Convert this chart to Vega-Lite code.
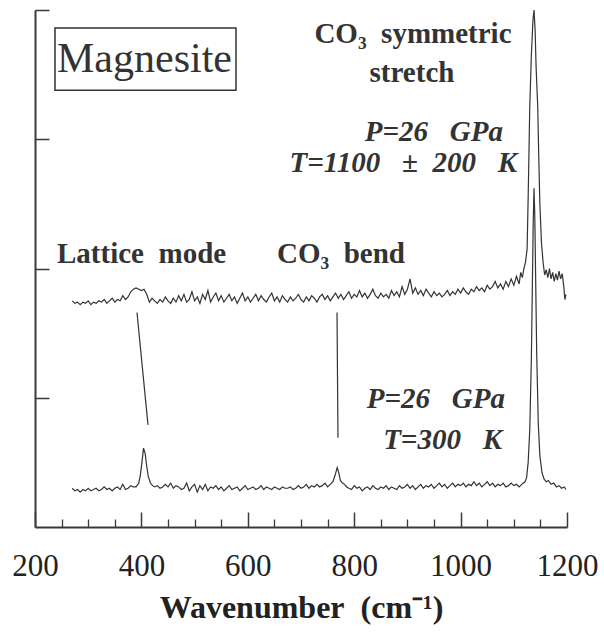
{
  "$schema": "https://vega.github.io/schema/vega-lite/v6.json",
  "width": 532,
  "height": 517,
  "autosize": "none",
  "padding": {"left": 35, "top": 10, "right": 37, "bottom": 108},
  "background": "white",
  "config": {
    "view": {"stroke": null},
    "font": "Liberation Serif",
    "axis": {"grid": false, "domainColor": "#3a3a3a", "tickColor": "#3a3a3a", "labelColor": "#222", "titleColor": "#222"}
  },
  "datasets": {
    "spectra": [
      {"run":"300 K","w":270,"i":0.30},{"run":"300 K","w":275,"i":0.28},{"run":"300 K","w":280,"i":0.29},{"run":"300 K","w":285,"i":0.27},{"run":"300 K","w":290,"i":0.29},{"run":"300 K","w":295,"i":0.28},{"run":"300 K","w":300,"i":0.30},{"run":"300 K","w":305,"i":0.28},{"run":"300 K","w":310,"i":0.29},{"run":"300 K","w":315,"i":0.30},{"run":"300 K","w":320,"i":0.28},{"run":"300 K","w":325,"i":0.29},{"run":"300 K","w":330,"i":0.31},{"run":"300 K","w":335,"i":0.29},{"run":"300 K","w":340,"i":0.30},{"run":"300 K","w":345,"i":0.28},{"run":"300 K","w":350,"i":0.30},{"run":"300 K","w":355,"i":0.31},{"run":"300 K","w":360,"i":0.29},{"run":"300 K","w":365,"i":0.33},{"run":"300 K","w":370,"i":0.29},{"run":"300 K","w":375,"i":0.30},{"run":"300 K","w":380,"i":0.32},{"run":"300 K","w":385,"i":0.31},{"run":"300 K","w":390,"i":0.31},{"run":"300 K","w":395,"i":0.34},{"run":"300 K","w":398,"i":0.40},{"run":"300 K","w":401,"i":0.50},{"run":"300 K","w":404,"i":0.61},{"run":"300 K","w":407,"i":0.57},{"run":"300 K","w":410,"i":0.47},{"run":"300 K","w":413,"i":0.39},{"run":"300 K","w":417,"i":0.34},{"run":"300 K","w":421,"i":0.32},{"run":"300 K","w":425,"i":0.31},{"run":"300 K","w":430,"i":0.32},{"run":"300 K","w":435,"i":0.30},{"run":"300 K","w":440,"i":0.31},{"run":"300 K","w":445,"i":0.33},{"run":"300 K","w":450,"i":0.31},{"run":"300 K","w":455,"i":0.34},{"run":"300 K","w":460,"i":0.30},{"run":"300 K","w":465,"i":0.32},{"run":"300 K","w":470,"i":0.31},{"run":"300 K","w":475,"i":0.29},{"run":"300 K","w":480,"i":0.30},{"run":"300 K","w":485,"i":0.34},{"run":"300 K","w":490,"i":0.28},{"run":"300 K","w":495,"i":0.31},{"run":"300 K","w":500,"i":0.33},{"run":"300 K","w":505,"i":0.27},{"run":"300 K","w":510,"i":0.32},{"run":"300 K","w":515,"i":0.29},{"run":"300 K","w":520,"i":0.33},{"run":"300 K","w":525,"i":0.28},{"run":"300 K","w":530,"i":0.31},{"run":"300 K","w":535,"i":0.30},{"run":"300 K","w":540,"i":0.32},{"run":"300 K","w":545,"i":0.29},{"run":"300 K","w":550,"i":0.31},{"run":"300 K","w":555,"i":0.28},{"run":"300 K","w":560,"i":0.30},{"run":"300 K","w":565,"i":0.32},{"run":"300 K","w":570,"i":0.29},{"run":"300 K","w":575,"i":0.30},{"run":"300 K","w":580,"i":0.31},{"run":"300 K","w":585,"i":0.28},{"run":"300 K","w":590,"i":0.30},{"run":"300 K","w":595,"i":0.32},{"run":"300 K","w":600,"i":0.29},{"run":"300 K","w":605,"i":0.30},{"run":"300 K","w":610,"i":0.31},{"run":"300 K","w":615,"i":0.29},{"run":"300 K","w":620,"i":0.30},{"run":"300 K","w":625,"i":0.32},{"run":"300 K","w":630,"i":0.29},{"run":"300 K","w":635,"i":0.31},{"run":"300 K","w":640,"i":0.30},{"run":"300 K","w":645,"i":0.29},{"run":"300 K","w":650,"i":0.31},{"run":"300 K","w":655,"i":0.30},{"run":"300 K","w":660,"i":0.29},{"run":"300 K","w":665,"i":0.31},{"run":"300 K","w":670,"i":0.30},{"run":"300 K","w":675,"i":0.30},{"run":"300 K","w":680,"i":0.31},{"run":"300 K","w":685,"i":0.29},{"run":"300 K","w":690,"i":0.30},{"run":"300 K","w":695,"i":0.32},{"run":"300 K","w":700,"i":0.30},{"run":"300 K","w":705,"i":0.31},{"run":"300 K","w":710,"i":0.33},{"run":"300 K","w":715,"i":0.30},{"run":"300 K","w":720,"i":0.32},{"run":"300 K","w":725,"i":0.31},{"run":"300 K","w":730,"i":0.33},{"run":"300 K","w":735,"i":0.31},{"run":"300 K","w":740,"i":0.32},{"run":"300 K","w":745,"i":0.34},{"run":"300 K","w":750,"i":0.31},{"run":"300 K","w":755,"i":0.33},{"run":"300 K","w":760,"i":0.35},{"run":"300 K","w":764,"i":0.40},{"run":"300 K","w":768,"i":0.46},{"run":"300 K","w":771,"i":0.42},{"run":"300 K","w":774,"i":0.36},{"run":"300 K","w":778,"i":0.34},{"run":"300 K","w":782,"i":0.33},{"run":"300 K","w":786,"i":0.31},{"run":"300 K","w":790,"i":0.30},{"run":"300 K","w":795,"i":0.29},{"run":"300 K","w":800,"i":0.32},{"run":"300 K","w":805,"i":0.30},{"run":"300 K","w":810,"i":0.31},{"run":"300 K","w":815,"i":0.28},{"run":"300 K","w":820,"i":0.30},{"run":"300 K","w":825,"i":0.31},{"run":"300 K","w":830,"i":0.29},{"run":"300 K","w":835,"i":0.32},{"run":"300 K","w":840,"i":0.30},{"run":"300 K","w":845,"i":0.29},{"run":"300 K","w":850,"i":0.31},{"run":"300 K","w":855,"i":0.30},{"run":"300 K","w":860,"i":0.32},{"run":"300 K","w":865,"i":0.29},{"run":"300 K","w":870,"i":0.31},{"run":"300 K","w":875,"i":0.30},{"run":"300 K","w":880,"i":0.29},{"run":"300 K","w":885,"i":0.32},{"run":"300 K","w":890,"i":0.30},{"run":"300 K","w":895,"i":0.31},{"run":"300 K","w":900,"i":0.33},{"run":"300 K","w":905,"i":0.30},{"run":"300 K","w":910,"i":0.32},{"run":"300 K","w":915,"i":0.29},{"run":"300 K","w":920,"i":0.31},{"run":"300 K","w":925,"i":0.33},{"run":"300 K","w":930,"i":0.30},{"run":"300 K","w":935,"i":0.32},{"run":"300 K","w":940,"i":0.31},{"run":"300 K","w":945,"i":0.33},{"run":"300 K","w":950,"i":0.30},{"run":"300 K","w":955,"i":0.32},{"run":"300 K","w":960,"i":0.34},{"run":"300 K","w":965,"i":0.31},{"run":"300 K","w":970,"i":0.33},{"run":"300 K","w":975,"i":0.30},{"run":"300 K","w":980,"i":0.32},{"run":"300 K","w":985,"i":0.34},{"run":"300 K","w":990,"i":0.31},{"run":"300 K","w":995,"i":0.33},{"run":"300 K","w":1000,"i":0.32},{"run":"300 K","w":1005,"i":0.34},{"run":"300 K","w":1010,"i":0.31},{"run":"300 K","w":1015,"i":0.33},{"run":"300 K","w":1020,"i":0.32},{"run":"300 K","w":1025,"i":0.35},{"run":"300 K","w":1030,"i":0.32},{"run":"300 K","w":1035,"i":0.34},{"run":"300 K","w":1040,"i":0.31},{"run":"300 K","w":1045,"i":0.33},{"run":"300 K","w":1050,"i":0.35},{"run":"300 K","w":1055,"i":0.32},{"run":"300 K","w":1060,"i":0.34},{"run":"300 K","w":1065,"i":0.31},{"run":"300 K","w":1070,"i":0.33},{"run":"300 K","w":1075,"i":0.32},{"run":"300 K","w":1080,"i":0.34},{"run":"300 K","w":1085,"i":0.31},{"run":"300 K","w":1090,"i":0.32},{"run":"300 K","w":1095,"i":0.34},{"run":"300 K","w":1100,"i":0.32},{"run":"300 K","w":1105,"i":0.33},{"run":"300 K","w":1110,"i":0.31},{"run":"300 K","w":1115,"i":0.33},{"run":"300 K","w":1118,"i":0.34},{"run":"300 K","w":1121,"i":0.35},{"run":"300 K","w":1124,"i":0.38},{"run":"300 K","w":1127,"i":0.50},{"run":"300 K","w":1130,"i":0.75},{"run":"300 K","w":1133,"i":1.30},{"run":"300 K","w":1135,"i":1.90},{"run":"300 K","w":1136.5,"i":2.35},{"run":"300 K","w":1138,"i":2.62},{"run":"300 K","w":1139.5,"i":2.40},{"run":"300 K","w":1141,"i":1.95},{"run":"300 K","w":1143,"i":1.35},{"run":"300 K","w":1146,"i":0.80},{"run":"300 K","w":1149,"i":0.55},{"run":"300 K","w":1153,"i":0.42},{"run":"300 K","w":1157,"i":0.37},{"run":"300 K","w":1161,"i":0.35},{"run":"300 K","w":1165,"i":0.36},{"run":"300 K","w":1170,"i":0.33},{"run":"300 K","w":1175,"i":0.34},{"run":"300 K","w":1180,"i":0.31},{"run":"300 K","w":1185,"i":0.32},{"run":"300 K","w":1190,"i":0.30},{"run":"300 K","w":1195,"i":0.31},{"run":"300 K","w":1198,"i":0.29},

      {"run":"1100 K","w":270,"i":1.75},{"run":"1100 K","w":275,"i":1.73},{"run":"1100 K","w":280,"i":1.74},{"run":"1100 K","w":285,"i":1.72},{"run":"1100 K","w":290,"i":1.74},{"run":"1100 K","w":295,"i":1.73},{"run":"1100 K","w":300,"i":1.75},{"run":"1100 K","w":305,"i":1.72},{"run":"1100 K","w":310,"i":1.74},{"run":"1100 K","w":315,"i":1.73},{"run":"1100 K","w":320,"i":1.75},{"run":"1100 K","w":325,"i":1.74},{"run":"1100 K","w":330,"i":1.76},{"run":"1100 K","w":335,"i":1.73},{"run":"1100 K","w":340,"i":1.75},{"run":"1100 K","w":345,"i":1.77},{"run":"1100 K","w":350,"i":1.74},{"run":"1100 K","w":355,"i":1.76},{"run":"1100 K","w":360,"i":1.75},{"run":"1100 K","w":365,"i":1.79},{"run":"1100 K","w":370,"i":1.76},{"run":"1100 K","w":375,"i":1.78},{"run":"1100 K","w":380,"i":1.82},{"run":"1100 K","w":385,"i":1.84},{"run":"1100 K","w":390,"i":1.85},{"run":"1100 K","w":395,"i":1.84},{"run":"1100 K","w":400,"i":1.83},{"run":"1100 K","w":405,"i":1.84},{"run":"1100 K","w":410,"i":1.80},{"run":"1100 K","w":415,"i":1.74},{"run":"1100 K","w":420,"i":1.77},{"run":"1100 K","w":425,"i":1.75},{"run":"1100 K","w":430,"i":1.73},{"run":"1100 K","w":435,"i":1.76},{"run":"1100 K","w":440,"i":1.74},{"run":"1100 K","w":445,"i":1.78},{"run":"1100 K","w":450,"i":1.75},{"run":"1100 K","w":455,"i":1.73},{"run":"1100 K","w":460,"i":1.77},{"run":"1100 K","w":465,"i":1.74},{"run":"1100 K","w":470,"i":1.79},{"run":"1100 K","w":475,"i":1.75},{"run":"1100 K","w":480,"i":1.80},{"run":"1100 K","w":485,"i":1.74},{"run":"1100 K","w":490,"i":1.76},{"run":"1100 K","w":495,"i":1.82},{"run":"1100 K","w":500,"i":1.75},{"run":"1100 K","w":505,"i":1.78},{"run":"1100 K","w":510,"i":1.73},{"run":"1100 K","w":515,"i":1.80},{"run":"1100 K","w":520,"i":1.76},{"run":"1100 K","w":525,"i":1.83},{"run":"1100 K","w":530,"i":1.74},{"run":"1100 K","w":535,"i":1.78},{"run":"1100 K","w":540,"i":1.81},{"run":"1100 K","w":545,"i":1.75},{"run":"1100 K","w":550,"i":1.79},{"run":"1100 K","w":555,"i":1.74},{"run":"1100 K","w":560,"i":1.77},{"run":"1100 K","w":565,"i":1.80},{"run":"1100 K","w":570,"i":1.75},{"run":"1100 K","w":575,"i":1.78},{"run":"1100 K","w":580,"i":1.73},{"run":"1100 K","w":585,"i":1.77},{"run":"1100 K","w":590,"i":1.81},{"run":"1100 K","w":595,"i":1.75},{"run":"1100 K","w":600,"i":1.78},{"run":"1100 K","w":605,"i":1.74},{"run":"1100 K","w":610,"i":1.77},{"run":"1100 K","w":615,"i":1.80},{"run":"1100 K","w":620,"i":1.75},{"run":"1100 K","w":625,"i":1.79},{"run":"1100 K","w":630,"i":1.76},{"run":"1100 K","w":635,"i":1.74},{"run":"1100 K","w":640,"i":1.78},{"run":"1100 K","w":645,"i":1.81},{"run":"1100 K","w":650,"i":1.75},{"run":"1100 K","w":655,"i":1.78},{"run":"1100 K","w":660,"i":1.74},{"run":"1100 K","w":665,"i":1.79},{"run":"1100 K","w":670,"i":1.76},{"run":"1100 K","w":675,"i":1.74},{"run":"1100 K","w":680,"i":1.78},{"run":"1100 K","w":685,"i":1.75},{"run":"1100 K","w":690,"i":1.77},{"run":"1100 K","w":695,"i":1.80},{"run":"1100 K","w":700,"i":1.76},{"run":"1100 K","w":705,"i":1.74},{"run":"1100 K","w":710,"i":1.78},{"run":"1100 K","w":715,"i":1.75},{"run":"1100 K","w":720,"i":1.79},{"run":"1100 K","w":725,"i":1.77},{"run":"1100 K","w":730,"i":1.74},{"run":"1100 K","w":735,"i":1.78},{"run":"1100 K","w":740,"i":1.80},{"run":"1100 K","w":745,"i":1.76},{"run":"1100 K","w":750,"i":1.79},{"run":"1100 K","w":755,"i":1.75},{"run":"1100 K","w":760,"i":1.78},{"run":"1100 K","w":765,"i":1.81},{"run":"1100 K","w":770,"i":1.77},{"run":"1100 K","w":775,"i":1.80},{"run":"1100 K","w":780,"i":1.76},{"run":"1100 K","w":785,"i":1.79},{"run":"1100 K","w":790,"i":1.82},{"run":"1100 K","w":795,"i":1.77},{"run":"1100 K","w":800,"i":1.80},{"run":"1100 K","w":805,"i":1.78},{"run":"1100 K","w":810,"i":1.83},{"run":"1100 K","w":815,"i":1.78},{"run":"1100 K","w":820,"i":1.81},{"run":"1100 K","w":825,"i":1.77},{"run":"1100 K","w":830,"i":1.80},{"run":"1100 K","w":835,"i":1.84},{"run":"1100 K","w":840,"i":1.79},{"run":"1100 K","w":845,"i":1.77},{"run":"1100 K","w":850,"i":1.81},{"run":"1100 K","w":855,"i":1.78},{"run":"1100 K","w":860,"i":1.80},{"run":"1100 K","w":865,"i":1.77},{"run":"1100 K","w":870,"i":1.83},{"run":"1100 K","w":875,"i":1.79},{"run":"1100 K","w":880,"i":1.82},{"run":"1100 K","w":885,"i":1.78},{"run":"1100 K","w":890,"i":1.86},{"run":"1100 K","w":895,"i":1.80},{"run":"1100 K","w":900,"i":1.84},{"run":"1100 K","w":905,"i":1.92},{"run":"1100 K","w":910,"i":1.81},{"run":"1100 K","w":915,"i":1.85},{"run":"1100 K","w":920,"i":1.80},{"run":"1100 K","w":925,"i":1.83},{"run":"1100 K","w":930,"i":1.79},{"run":"1100 K","w":935,"i":1.84},{"run":"1100 K","w":940,"i":1.81},{"run":"1100 K","w":945,"i":1.78},{"run":"1100 K","w":950,"i":1.82},{"run":"1100 K","w":955,"i":1.79},{"run":"1100 K","w":960,"i":1.81},{"run":"1100 K","w":965,"i":1.78},{"run":"1100 K","w":970,"i":1.80},{"run":"1100 K","w":975,"i":1.83},{"run":"1100 K","w":980,"i":1.79},{"run":"1100 K","w":985,"i":1.82},{"run":"1100 K","w":990,"i":1.80},{"run":"1100 K","w":995,"i":1.84},{"run":"1100 K","w":1000,"i":1.81},{"run":"1100 K","w":1005,"i":1.85},{"run":"1100 K","w":1010,"i":1.82},{"run":"1100 K","w":1015,"i":1.80},{"run":"1100 K","w":1020,"i":1.84},{"run":"1100 K","w":1025,"i":1.82},{"run":"1100 K","w":1030,"i":1.86},{"run":"1100 K","w":1035,"i":1.83},{"run":"1100 K","w":1040,"i":1.85},{"run":"1100 K","w":1045,"i":1.82},{"run":"1100 K","w":1050,"i":1.87},{"run":"1100 K","w":1055,"i":1.84},{"run":"1100 K","w":1060,"i":1.86},{"run":"1100 K","w":1065,"i":1.90},{"run":"1100 K","w":1070,"i":1.85},{"run":"1100 K","w":1075,"i":1.88},{"run":"1100 K","w":1080,"i":1.84},{"run":"1100 K","w":1085,"i":1.90},{"run":"1100 K","w":1090,"i":1.86},{"run":"1100 K","w":1095,"i":1.92},{"run":"1100 K","w":1100,"i":1.87},{"run":"1100 K","w":1105,"i":1.94},{"run":"1100 K","w":1110,"i":1.88},{"run":"1100 K","w":1113,"i":1.97},{"run":"1100 K","w":1116,"i":1.93},{"run":"1100 K","w":1119,"i":2.00},{"run":"1100 K","w":1122,"i":2.05},{"run":"1100 K","w":1125,"i":2.15},{"run":"1100 K","w":1127,"i":2.55},{"run":"1100 K","w":1130,"i":3.25},{"run":"1100 K","w":1133,"i":3.65},{"run":"1100 K","w":1136,"i":3.92},{"run":"1100 K","w":1138,"i":4.00},{"run":"1100 K","w":1140,"i":3.85},{"run":"1100 K","w":1142,"i":3.55},{"run":"1100 K","w":1145,"i":3.25},{"run":"1100 K","w":1147,"i":2.85},{"run":"1100 K","w":1149,"i":2.50},{"run":"1100 K","w":1152,"i":2.20},{"run":"1100 K","w":1155,"i":2.05},{"run":"1100 K","w":1158,"i":1.95},{"run":"1100 K","w":1161,"i":1.99},{"run":"1100 K","w":1164,"i":1.93},{"run":"1100 K","w":1167,"i":2.00},{"run":"1100 K","w":1170,"i":1.92},{"run":"1100 K","w":1173,"i":1.97},{"run":"1100 K","w":1176,"i":1.90},{"run":"1100 K","w":1179,"i":1.96},{"run":"1100 K","w":1182,"i":1.91},{"run":"1100 K","w":1185,"i":1.98},{"run":"1100 K","w":1188,"i":1.92},{"run":"1100 K","w":1191,"i":1.96},{"run":"1100 K","w":1194,"i":1.86},{"run":"1100 K","w":1196,"i":1.76},{"run":"1100 K","w":1198,"i":1.80}
    ]
  },
  "resolve": {"axis": {"x": "independent", "y": "independent"}},
  "layer": [
    {
      "data": {"name": "spectra"},
      "mark": {"type": "line", "color": "#333", "strokeWidth": 1.2, "interpolate": "linear"},
      "encoding": {
        "x": {
          "field": "w", "type": "quantitative",
          "scale": {"domain": [200, 1200], "nice": false, "zero": false},
          "axis": {
            "orient": "bottom",
            "values": [200, 400, 600, 800, 1000, 1200], "format": "d",
            "tickSize": -15, "tickWidth": 1.5, "domainWidth": 2,
            "labelFont": "Liberation Serif", "labelFontSize": 31, "labelPadding": 39,
            "labelFlush": false, "labelOverlap": false,
            "title": "Wavenumber\u00a0 (cm⁻¹)", "titleFont": "Liberation Serif", "titleFontSize": 32,
            "titleFontWeight": "bold", "titleY": 90, "titleBaseline": "alphabetic"
          }
        },
        "y": {
          "field": "i", "type": "quantitative",
          "scale": {"domain": [0, 4], "nice": false, "zero": false},
          "axis": {"orient": "left", "values": [1, 2, 3, 4], "tickSize": -14, "tickWidth": 1.5, "domainWidth": 2, "labels": false, "title": null}
        },
        "detail": {"field": "run"}
      }
    },
    {
      "data": {"values": [
        {"mode": "lattice", "w": 391.7, "i": 1.66, "w2": 412.4, "i2": 0.79},
        {"mode": "bend", "w": 767.7, "i": 1.66, "w2": 769.5, "i2": 0.69}
      ]},
      "mark": {"type": "rule", "color": "#333", "strokeWidth": 1.2},
      "encoding": {
        "x": {
          "field": "w", "type": "quantitative",
          "axis": {
            "orient": "bottom",
            "values": [250, 300, 350, 450, 500, 550, 650, 700, 750, 850, 900, 950, 1050, 1100, 1150],
            "tickSize": -8, "tickWidth": 1.3, "labels": false, "domain": false, "title": null
          }
        },
        "x2": {"field": "w2"},
        "y": {"field": "i", "type": "quantitative", "axis": null},
        "y2": {"field": "i2"}
      }
    },
    {
      "data": {"values": [{"w": 237.6, "i": 3.86, "w2": 577.8, "i2": 3.38}]},
      "mark": {"type": "rect", "fill": null, "stroke": "#333", "strokeWidth": 1.5},
      "encoding": {
        "x": {"field": "w", "type": "quantitative", "axis": null},
        "x2": {"field": "w2"},
        "y": {"field": "i", "type": "quantitative", "axis": null},
        "y2": {"field": "i2"}
      }
    },
    {
      "data": {"values": [{"label": "Magnesite", "w": 405.8, "i": 3.52}]},
      "mark": {"type": "text", "font": "Liberation Serif", "fontSize": 42, "align": "center", "baseline": "alphabetic", "color": "#333"},
      "encoding": {
        "x": {"field": "w", "type": "quantitative", "axis": null},
        "y": {"field": "i", "type": "quantitative", "axis": null},
        "text": {"field": "label"}
      }
    },
    {
      "data": {"values": [
        {"label": "CO₃\u00a0 symmetric", "w": 910.5, "i": 3.745},
        {"label": "stretch", "w": 908.6, "i": 3.44}
      ]},
      "mark": {"type": "text", "font": "Liberation Serif", "fontSize": 29, "fontWeight": "bold", "align": "center", "baseline": "alphabetic", "color": "#333"},
      "encoding": {
        "x": {"field": "w", "type": "quantitative", "axis": null},
        "y": {"field": "i", "type": "quantitative", "axis": null},
        "text": {"field": "label"}
      }
    },
    {
      "data": {"values": [
        {"label": "Lattice\u00a0 mode", "w": 241.4, "i": 2.04},
        {"label": "CO₃\u00a0 bend", "w": 654.9, "i": 2.04}
      ]},
      "mark": {"type": "text", "font": "Liberation Serif", "fontSize": 29, "fontWeight": "bold", "align": "left", "baseline": "alphabetic", "color": "#333"},
      "encoding": {
        "x": {"field": "w", "type": "quantitative", "axis": null},
        "y": {"field": "i", "type": "quantitative", "axis": null},
        "text": {"field": "label"}
      }
    },
    {
      "data": {"values": [
        {"label": "P=26\u00a0\u00a0 GPa", "w": 1079.7, "i": 2.99},
        {"label": "T=1100\u00a0\u00a0 ±\u00a0 200\u00a0\u00a0 K", "w": 1106, "i": 2.75},
        {"label": "P=26\u00a0\u00a0 GPa", "w": 1083.5, "i": 0.92},
        {"label": "T=300\u00a0\u00a0 K", "w": 1077.8, "i": 0.60}
      ]},
      "mark": {"type": "text", "font": "Liberation Serif", "fontSize": 29, "fontWeight": "bold", "fontStyle": "italic", "align": "right", "baseline": "alphabetic", "color": "#333"},
      "encoding": {
        "x": {"field": "w", "type": "quantitative", "axis": null},
        "y": {"field": "i", "type": "quantitative", "axis": null},
        "text": {"field": "label"}
      }
    }
  ]
}
